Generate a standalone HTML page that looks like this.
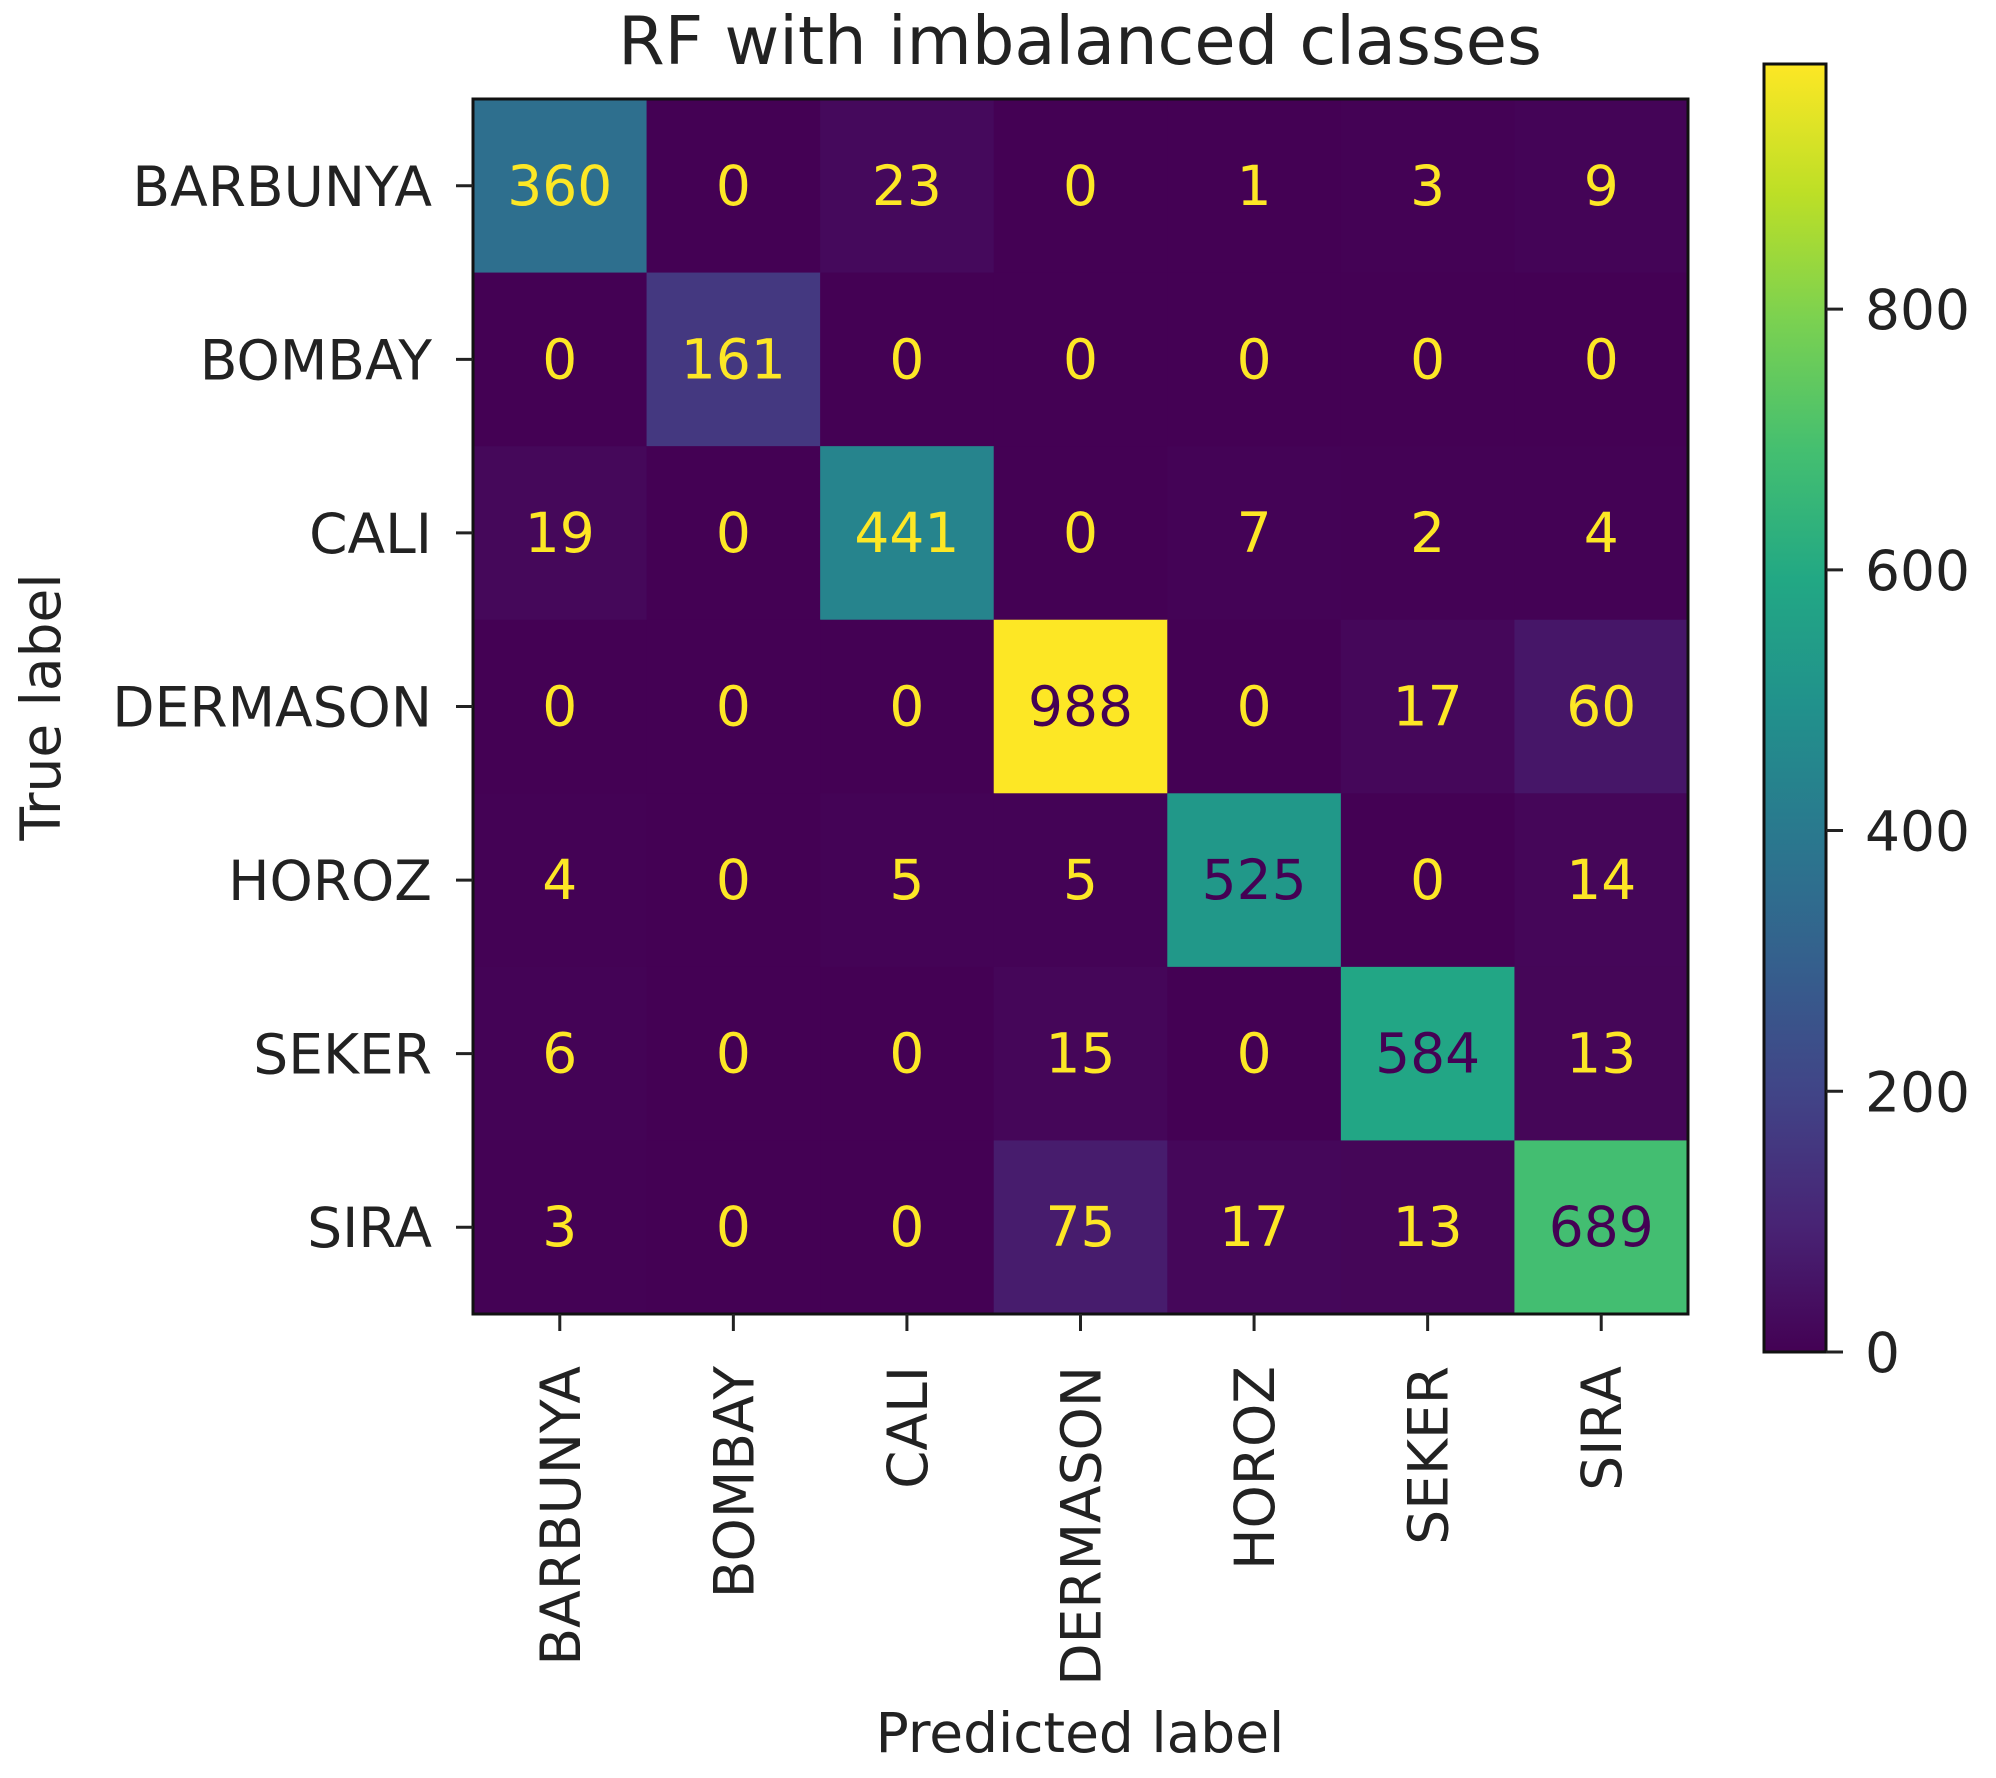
<!DOCTYPE html>
<html><head><meta charset="utf-8"><style>
html,body{margin:0;padding:0;background:#fff;}
svg{display:block;font-family:"DejaVu Sans","Liberation Sans",sans-serif;}
</style></head><body>
<svg id="chart" width="1996" height="1778" viewBox="0 0 1996 1778" xmlns="http://www.w3.org/2000/svg">
<defs>
<linearGradient id="vir" x1="0" y1="1" x2="0" y2="0">
<stop offset="0" stop-color="#440154"/><stop offset="0.1" stop-color="#482475"/><stop offset="0.2" stop-color="#414487"/><stop offset="0.3" stop-color="#355f8d"/><stop offset="0.4" stop-color="#2a788e"/><stop offset="0.5" stop-color="#21918c"/><stop offset="0.6" stop-color="#22a884"/><stop offset="0.7" stop-color="#44bf70"/><stop offset="0.8" stop-color="#7ad151"/><stop offset="0.9" stop-color="#bddf26"/><stop offset="1" stop-color="#fde725"/>
</linearGradient>
</defs>
<text x="1080" y="64" font-size="67" text-anchor="middle" fill="#222">RF with imbalanced classes</text>
<g id="cells"></g>
<rect x="473" y="99" width="1215" height="1215" fill="none" stroke="#111" stroke-width="3"/>
<g id="ticks"></g>
<text x="1080" y="1752" font-size="55" text-anchor="middle" fill="#222">Predicted label</text>
<text transform="translate(60,707) rotate(-90)" font-size="55" text-anchor="middle" fill="#222">True label</text>
<rect x="1764" y="64" width="62" height="1288" fill="url(#vir)" stroke="#111" stroke-width="3"/>
<g id="cbticks"></g>
</svg>
<script>
const classes = ["BARBUNYA","BOMBAY","CALI","DERMASON","HOROZ","SEKER","SIRA"];
const row0 = [360,0,23,0,1,3,9];
const row1 = [0,161,0,0,0,0,0];
const row2 = [19,0,441,0,7,2,4];
const row3 = [0,0,0,988,0,17,60];
const row4 = [4,0,5,5,525,0,14];
const row5 = [6,0,0,15,0,584,13];
const row6 = [3,0,0,75,17,13,689];
const matrix = [row0,row1,row2,row3,row4,row5,row6];
const cbTicks = [0,200,400,600,800];

const NS="http://www.w3.org/2000/svg";
const L=473,T=99,S=1215,n=classes.length,cw=S/n;
let vmax=0; matrix.forEach(r=>r.forEach(v=>{if(v>vmax)vmax=v;}));
const vmin=0;
const stops=[[68,1,84],[72,36,117],[65,68,135],[53,95,141],[42,120,142],[33,145,140],[34,168,132],[68,191,112],[122,209,81],[189,223,38],[253,231,37]];
function vir(t){t=Math.max(0,Math.min(1,t));const p=t*10,i=Math.min(9,Math.floor(p)),f=p-i;const a=stops[i],b=stops[i+1];return `rgb(${a.map((c,k)=>Math.round(c+(b[k]-c)*f)).join(',')})`;}
const xPos=j=>L+cw*(j+0.5), yPos=i=>T+cw*(i+0.5);
const cbY=v=>1352-(v-vmin)/(vmax-vmin)*1288;
function mk(tag,attrs,parent){const e=document.createElementNS(NS,tag);for(const k in attrs)e.setAttribute(k,attrs[k]);parent.appendChild(e);return e;}
const cells=document.getElementById('cells'),ticks=document.getElementById('ticks'),cbt=document.getElementById('cbticks');
const thr=(vmax+vmin)/2;
matrix.forEach((r,i)=>r.forEach((v,j)=>{
  const rc=mk('rect',{x:L+cw*j,y:T+cw*i,width:cw+0.5,height:cw+0.5,fill:vir((v-vmin)/(vmax-vmin))},cells);
  
  
  const tx=mk('text',{x:xPos(j),y:yPos(i)+19,'font-size':55,'text-anchor':'middle',fill:v<thr?'#fde725':'#440154'},cells);
  tx.textContent=v;
  
  
}));
classes.forEach((c,i)=>{
  const tl=mk('line',{x1:456,x2:473,y1:yPos(i),y2:yPos(i),stroke:'#222','stroke-width':3},ticks);
  
  
  const yl=mk('text',{x:432,y:yPos(i)+20,'font-size':55,'text-anchor':'end',fill:'#222'},ticks);
  yl.textContent=c;
  
  
  const xt=mk('line',{x1:xPos(i),x2:xPos(i),y1:1314,y2:1331,stroke:'#222','stroke-width':3},ticks);
  
  
  const xl=mk('text',{transform:`translate(${xPos(i)+20},1366) rotate(-90)`,'font-size':55,'text-anchor':'end',fill:'#222'},ticks);
  xl.textContent=c;
  
  
});
cbTicks.forEach(v=>{
  const l=mk('line',{x1:1826,x2:1843,y1:cbY(v),y2:cbY(v),stroke:'#222','stroke-width':3},cbt);
  
  
  const t=mk('text',{x:1865,y:cbY(v)+20,'font-size':55,fill:'#222'},cbt);
  t.textContent=v;
  
  
});
</script>
</body></html>
